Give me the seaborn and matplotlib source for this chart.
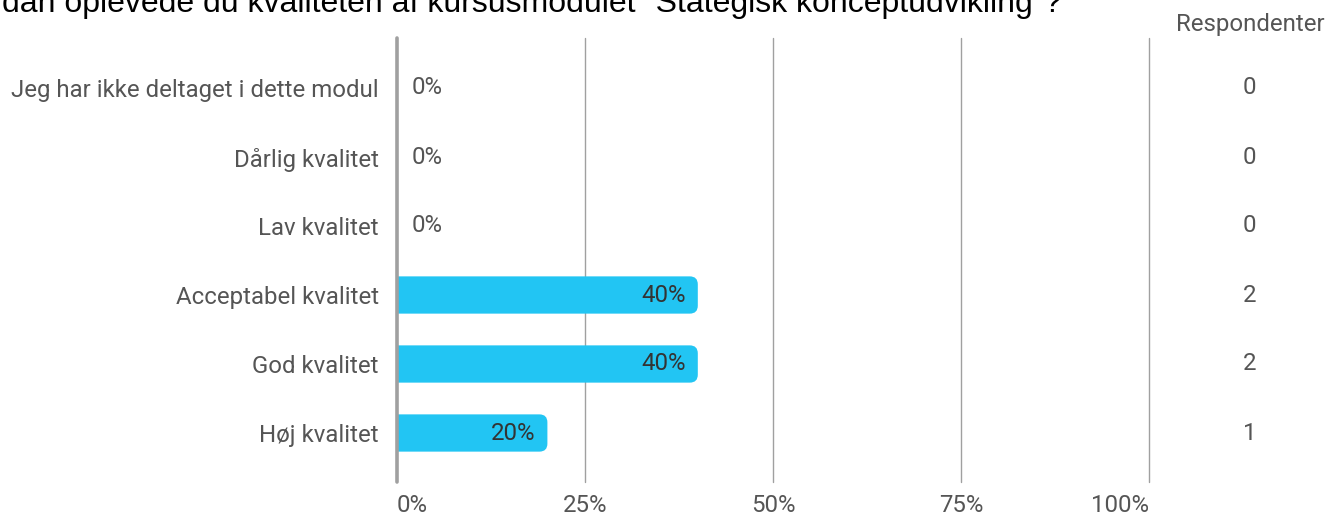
import matplotlib
matplotlib.use("Agg")
import matplotlib.pyplot as plt
import matplotlib.transforms as mtrans
import seaborn as sns
import pandas as pd
from matplotlib.patches import FancyBboxPatch

categories = ["Jeg har ikke deltaget i dette modul", "Dårlig kvalitet", "Lav kvalitet",
              "Acceptabel kvalitet", "God kvalitet", "Høj kvalitet"]
percents = [0, 0, 0, 40, 40, 20]
respondents = [0, 0, 0, 2, 2, 1]
xticks = [0, 25, 50, 75, 100]
xticklabels = ["0%", "25%", "50%", "75%", "100%"]
title = "dan oplevede du kvaliteten af kursusmodulet \"Stategisk konceptudvikling\"?"

sns.set_theme(style="white")
plt.rcParams["font.family"] = ["Roboto", "DejaVu Sans"]

FS = 17.3
W, H = 1343, 519
fig = plt.figure(figsize=(W / 100, H / 100), dpi=100)
left, right = 397, 1149
top, bottom = 38, 482
ax = fig.add_axes([left / W, 1 - bottom / H, (right - left) / W, (bottom - top) / H])

df = pd.DataFrame({"cat": categories, "pct": percents})
bar_color = "#22C5F3"
sns.barplot(data=df, x="pct", y="cat", orient="h", color=bar_color, width=0.54,
            ax=ax, saturation=1)

ax.set_xlim(0, 100)
ax.set_ylim(5 + 49 / 69, -50 / 69)

# rounded bars
px_x = 100 / (right - left)
px_y = 1 / 69
r = 8
for p in list(ax.patches):
    w = p.get_width()
    if w <= 0:
        p.remove()
        continue
    x0, y0, h = p.get_x(), p.get_y(), p.get_height()
    p.remove()
    fb = FancyBboxPatch((x0 - r * px_x, y0), w + r * px_x, h,
                        boxstyle=f"round,pad=0,rounding_size={r * px_x}",
                        mutation_aspect=px_y / px_x, facecolor=bar_color,
                        edgecolor="none", zorder=2)
    ax.add_patch(fb)

for xv in xticks[1:]:
    ax.axvline(xv, color="#a0a0a0", lw=1, zorder=1, clip_on=False)
ax.axvline(0, color="#a0a0a0", lw=2.6, zorder=3, clip_on=False)

for s in ax.spines.values():
    s.set_visible(False)

ax.set_xticks(xticks)
ax.set_xticklabels(xticklabels, color="#555555", fontsize=FS)
tl = ax.get_xticklabels()
tl[0].set_ha("left")
tl[0].set_transform(tl[0].get_transform() + mtrans.ScaledTranslation(-5 / 100, 0, fig.dpi_scale_trans))
tl[-1].set_ha("right")
tl[-1].set_transform(tl[-1].get_transform() + mtrans.ScaledTranslation(4 / 100, 0, fig.dpi_scale_trans))
ax.tick_params(axis="x", length=0, pad=9)
ax.tick_params(axis="y", length=0, pad=13)
ax.set_yticks(range(len(categories)))
ax.set_yticklabels(categories, color="#555555", fontsize=FS)
ax.set_xlabel("")
ax.set_ylabel("")

for i, (pv, n) in enumerate(zip(percents, respondents)):
    if pv == 0:
        ax.text(1.9, i, f"{pv}%", va="center", ha="left", color="#555555", fontsize=FS)
    else:
        ax.text(pv - 1.6, i, f"{pv}%", va="center", ha="right", color="#333333",
                fontsize=FS, zorder=4)
    ax.text(113.4, i, f"{n}", va="center", ha="center", color="#555555", fontsize=FS,
            clip_on=False)

fig.text(1250 / W, 1 - 25 / H, "Respondenter", ha="center", va="center",
         color="#555555", fontsize=FS)
fig.text(2 / W, 1 - 12 / H, title, ha="left", va="baseline", color="#000000",
         fontsize=23, family=["Liberation Sans", "DejaVu Sans"])

fig.savefig("out.png", dpi=100)
